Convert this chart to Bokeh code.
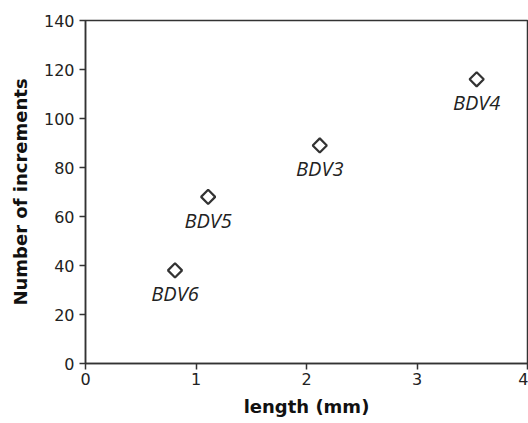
import numpy as np
from bokeh.plotting import figure
from bokeh.models import ColumnDataSource, Range1d, FixedTicker
from bokeh.core.properties import value
from bokeh.embed import file_html
from bokeh.resources import INLINE

names = ["BDV6", "BDV5", "BDV3", "BDV4"]
length_mm = [0.81, 1.11, 2.12, 3.54]
increments = [38, 68, 89, 116]

src = ColumnDataSource(dict(x=length_mm, y=increments, name=names))

p = figure(width=528, height=423, output_backend="svg", toolbar_location=None,
           x_range=Range1d(0, 4), y_range=Range1d(0, 140),
           min_border_left=85, min_border_right=1, min_border_top=20, min_border_bottom=60)
p.xgrid.visible = False
p.ygrid.visible = False
p.outline_line_color = "#333333"
p.outline_line_width = 1.5
p.outline_line_alpha = 1

for ax in (p.xaxis[0], p.yaxis[0]):
    ax.axis_line_color = "#333333"
    ax.axis_line_width = 1.5
    ax.major_tick_line_color = "#333333"
    ax.major_tick_line_width = 1.5
    ax.major_tick_out = 6
    ax.major_tick_in = 0
    ax.minor_tick_line_color = None
    ax.major_label_text_font = "DejaVu Sans"
    ax.major_label_text_font_size = "16px"
    ax.major_label_text_color = "#222222"
    ax.axis_label_text_font = "DejaVu Sans"
    ax.axis_label_text_font_style = "bold"
    ax.axis_label_text_font_size = "18px"
    ax.axis_label_text_color = "#111111"

p.xaxis.ticker = FixedTicker(ticks=[0, 1, 2, 3, 4])
p.yaxis.ticker = FixedTicker(ticks=list(range(0, 141, 20)))
p.xaxis.axis_label = "length (mm)"
p.yaxis.axis_label = "Number of increments"
p.xaxis.major_label_standoff = 3
p.yaxis.major_label_standoff = 5
p.xaxis.axis_label_standoff = 8
p.yaxis.axis_label_standoff = 10

p.scatter("x", "y", source=src, marker="square", size=10, angle=np.pi / 4,
          fill_color="white", line_color="#333333", line_width=2.2)
p.text("x", "y", text="name", source=src, y_offset=10,
       text_align="center", text_baseline="top",
       text_font=value("Open Sans"), text_font_style="italic",
       text_font_size="20px", text_color="#222222")

open("out.html", "w").write(file_html(p, INLINE))
